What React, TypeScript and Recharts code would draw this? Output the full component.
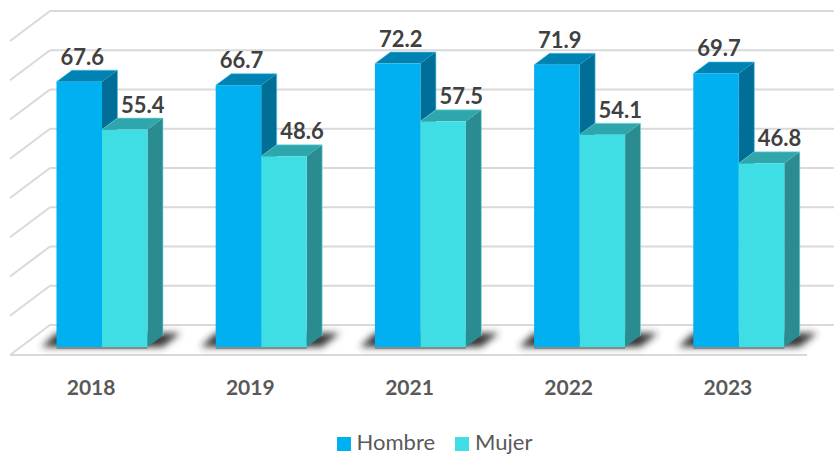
import React from 'react'
import { BarChart, Bar, XAxis, YAxis, CartesianGrid, Legend, LabelList } from 'recharts'

const years = ['2018', '2019', '2021', '2022', '2023']
const hombre = [67.6, 66.7, 72.2, 71.9, 69.7]
const mujer = [55.4, 48.6, 57.5, 54.1, 46.8]
const yTicks = [0, 10, 20, 30, 40, 50, 60, 70, 80]

const data = years.map((year, i) => ({ year, Hombre: hombre[i], Mujer: mujer[i] }))

const FONT = 'Lato, sans-serif'
const DEPTH_X = 15.5
const DEPTH_Y = 11.5

const HOMBRE_COLORS = { front: '#00B0F0', top: '#0083B3', side: '#006E96', edge: '#4FC3EE' }
const MUJER_COLORS = { front: '#3FDDE4', top: '#2FA6AB', side: '#2A8C90', edge: '#7FE3E8' }

function Box({ x, y, width, height, colors }: any) {
  const r = x + width
  const b = y + height
  return (
    <g>
      <polygon
        points={`${r},${y} ${r + DEPTH_X},${y - DEPTH_Y} ${r + DEPTH_X},${b - DEPTH_Y} ${r},${b}`}
        fill={colors.side}
      />
      <polygon
        points={`${x},${y} ${x + DEPTH_X},${y - DEPTH_Y} ${r + DEPTH_X},${y - DEPTH_Y} ${r},${y}`}
        fill={colors.top}
      />
      <rect x={x} y={y} width={width} height={height} fill={colors.front} />
      <polyline
        points={`${x},${y} ${x + DEPTH_X},${y - DEPTH_Y} ${r + DEPTH_X},${y - DEPTH_Y} ${r + DEPTH_X},${b - DEPTH_Y}`}
        fill="none"
        stroke={colors.edge}
        strokeWidth={1}
        strokeOpacity={0.6}
      />
    </g>
  )
}

// the floor shadow is drawn with the first bar of each group, so both bars sit on top of it
function HombreBar(props: any) {
  const { x, y, width, height } = props
  const b = y + height
  const r = x + width * 2
  return (
    <g>
      <polygon
        points={`${x - 15},${b} ${x},${b - 14} ${r + 33},${b - 14} ${r + 15},${b}`}
        fill="#2b2b2b"
        fillOpacity={0.95}
        filter="url(#floorBlur)"
      />
      <rect x={x} y={b} width={width * 2} height={2} fill="#8a8a8a" />
      <Box {...props} colors={HOMBRE_COLORS} />
    </g>
  )
}

function MujerBar(props: any) {
  return <Box {...props} colors={MUJER_COLORS} />
}

function WallLine({ x2, y1 }: any) {
  // y1 comes from the value scale, the wall and floor are offset from it
  const floor = y1 === 347
  return (
    <g stroke="#D9D9D9" strokeWidth={2} fill="none">
      <line x1={50} y1={y1 - 22} x2={x2 + 20} y2={y1 - 22} />
      <line x1={10} y1={y1 + 8} x2={50} y2={y1 - 22} />
      {floor && <line x1={10} y1={y1 + 8} x2={807} y2={y1 + 8} />}
    </g>
  )
}

function valueLabel(dx: number) {
  return ({ x, y, width, value }: any) => (
    <text
      x={x + width / 2 + dx}
      y={y - 17}
      textAnchor="middle"
      fontFamily={FONT}
      fontWeight={700}
      fontSize={22}
      fill="#404040"
    >
      {value}
    </text>
  )
}

export default function App() {
  return (
    <div style={{ position: 'absolute', left: 0, top: 0, width: 834, height: 455, overflow: 'hidden', background: '#fff' }}>
      <BarChart
        width={834}
        height={455}
        data={data}
        margin={{ top: 33, right: 15.5, bottom: 0, left: 22.5 }}
        barSize={45.5}
        barGap={0}
      >
        <defs>
          <filter id="floorBlur" x="-20%" y="-80%" width="140%" height="260%">
            <feGaussianBlur stdDeviation="3.5" />
          </filter>
        </defs>
        <CartesianGrid vertical={false} horizontal={(p: any) => <WallLine key={p.index} {...p} />} />
        <XAxis
          dataKey="year"
          height={68}
          axisLine={false}
          tickLine={false}
          tickMargin={27}
          tick={{ dx: -11, fontFamily: FONT, fontWeight: 700, fontSize: 21, fill: '#595959' }}
        />
        <YAxis hide domain={[0, 80]} ticks={yTicks} />
        <Legend
          height={40}
          verticalAlign="bottom"
          align="center"
          iconType="square"
          iconSize={14}
          wrapperStyle={{ fontFamily: FONT, fontSize: 22, transform: 'translate(24px, 13px)' }}
          formatter={(value: string) => (
            <span style={{ color: '#595959', marginLeft: 2, marginRight: 10 }}>{value}</span>
          )}
        />
        <Bar dataKey="Hombre" fill={HOMBRE_COLORS.front} shape={HombreBar} isAnimationActive={false}>
          <LabelList dataKey="Hombre" content={valueLabel(3)} />
        </Bar>
        <Bar dataKey="Mujer" fill={MUJER_COLORS.front} shape={MujerBar} isAnimationActive={false}>
          <LabelList dataKey="Mujer" content={valueLabel(18)} />
        </Bar>
      </BarChart>
    </div>
  )
}
